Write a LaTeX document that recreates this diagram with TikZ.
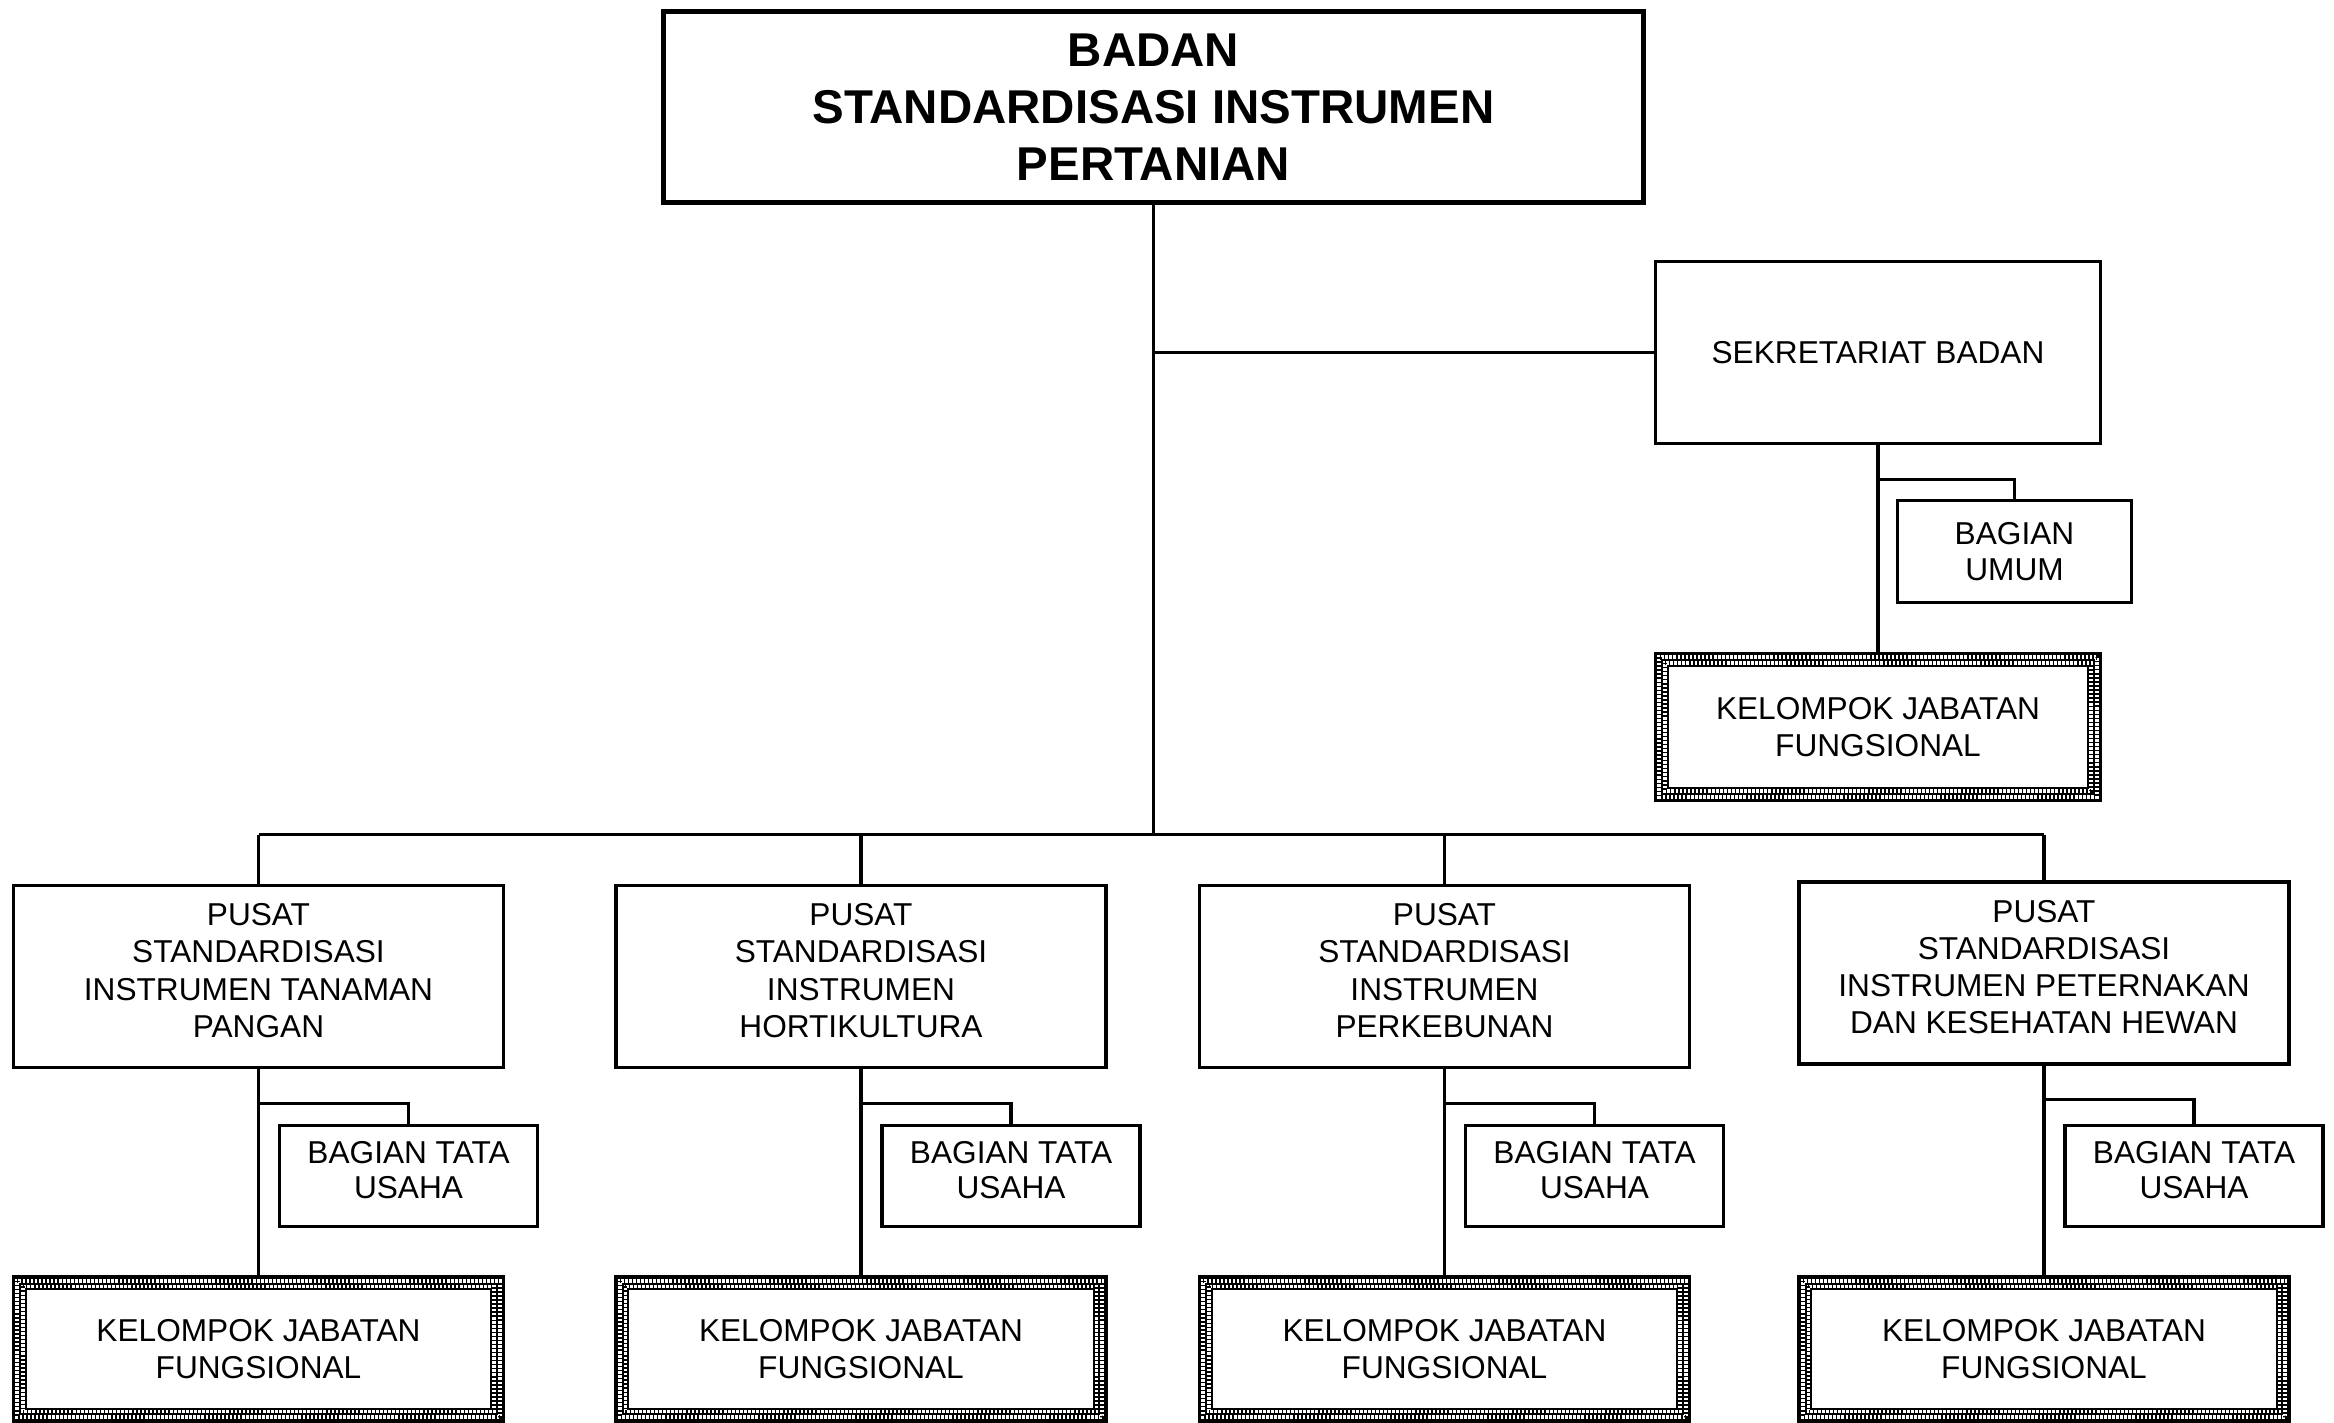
\documentclass[tikz,border=0pt]{standalone}
\usepackage{fontspec}
\setmainfont{Liberation Sans}
\usepackage{tikz}

% inner rectangle of a kjf box, #1 inset from the border, #2 options
\newcommand{\bandrect}[2]{%
  \draw[#2] ([shift={(#1,-#1)}]path picture bounding box.north west) rectangle ([shift={(-#1,#1)}]path picture bounding box.south east);}

\tikzset{
  box/.style={draw, line width=1pt, inner sep=0pt, align=center,
    font=\fontsize{9}{10.6}\selectfont},
  smallbox/.style={box, font=\fontsize{9}{10.2}\selectfont},
  raised/.style={text depth=0.12cm},
  topbox/.style={box, line width=1.4pt, font=\fontsize{13.5}{16.3}\selectfont\bfseries},
  kjf/.style={box, line width=0.9pt, path picture={
    \bandrect{0.0375}{line width=0.045cm, dash pattern=on 0.4pt off 0.75pt}
    \bandrect{0.0675}{line width=0.45pt}
    \bandrect{0.094}{line width=0.037cm, dash pattern=on 0.4pt off 0.75pt}
    \bandrect{0.1235}{line width=0.6pt}}},
  link/.style={line width=0.95pt}
}

\begin{document}
\begin{tikzpicture}
  \useasboundingbox (0,0) rectangle (23.34,-14.22);
  \node[topbox, minimum width=9.8cm, minimum height=1.91cm] (badan) at (11.535,-1.07)
    {BADAN\\STANDARDISASI INSTRUMEN\\PERTANIAN};
  \node[box, minimum width=4.45cm, minimum height=1.82cm] (sekre) at (18.78,-3.525) {SEKRETARIAT BADAN};
  \node[smallbox, minimum width=2.34cm, minimum height=1.02cm] (umum) at (20.145,-5.515) {BAGIAN\\UMUM};
  \node[kjf, minimum width=4.45cm, minimum height=1.47cm] (kjfs) at (18.78,-7.27) {KELOMPOK JABATAN\\FUNGSIONAL};
  \coordinate (bus) at (0,-8.345);
  \draw[link] (badan.south) -- (badan.south |- bus);
  \draw[link] (badan.south |- sekre.west) -- (sekre.west);
  \draw[link] (sekre.south) -- (kjfs.north);
  \draw[link] (sekre.south) ++(0,-0.34) -| (umum.north);
  % pusat columns
  \foreach \i/\x/\y/\ptext in {1/2.585/-9.765/{PUSAT\\STANDARDISASI\\INSTRUMEN TANAMAN\\PANGAN},
      2/8.61/-9.765/{PUSAT\\STANDARDISASI\\INSTRUMEN\\HORTIKULTURA},
      3/14.445/-9.765/{PUSAT\\STANDARDISASI\\INSTRUMEN\\PERKEBUNAN},
      4/20.44/-9.73/{PUSAT\\STANDARDISASI\\INSTRUMEN PETERNAKAN\\DAN KESEHATAN HEWAN}} {
    \node[box, raised, minimum width=4.9cm, minimum height=1.82cm] (pusat\i) at (\x,\y) {\ptext};
    \node[smallbox, raised, minimum width=2.58cm, minimum height=1.01cm] (tu\i) at ({\x+1.5},-11.76) {BAGIAN TATA\\USAHA};
    \node[kjf, minimum width=4.9cm, minimum height=1.44cm] (kjf\i) at (\x,-13.49) {KELOMPOK JABATAN\\FUNGSIONAL};
    \draw[link] (pusat\i.north |- bus) -- (pusat\i.north);
    \draw[link] (pusat\i.south) -- (kjf\i.north);
    \draw[link] (pusat\i.south) ++(0,-0.34) -| (tu\i.north);
  }
  \draw[link] (pusat1.north |- bus) -- (pusat4.north |- bus);
\end{tikzpicture}
\end{document}
